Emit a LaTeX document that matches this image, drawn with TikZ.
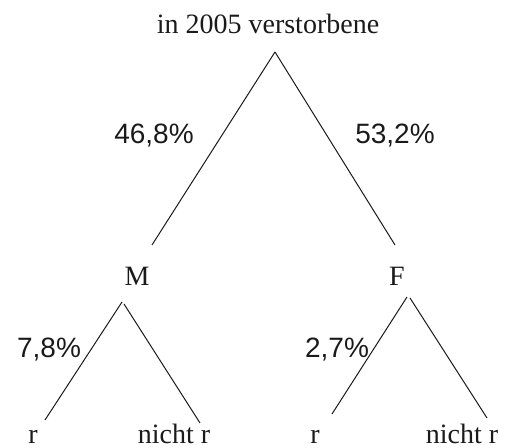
\documentclass[tikz,border=0pt]{standalone}
\usepackage{fontspec}
\setmainfont{Liberation Serif}
\newfontfamily\pctfont{Liberation Sans}
\usepackage{tikz}
\usetikzlibrary{positioning,calc}
\usepackage[dvipsnames]{xcolor}
\definecolor{inkBlack}{HTML}{1a1a1a}
\tikzset{
  treeLabel/.style={inner sep=0pt,anchor=base,text=inkBlack,font=\fontsize{14pt}{16pt}\selectfont},
  pctLabel/.style={inner sep=0pt,text=inkBlack,font=\pctfont\fontsize{14pt}{16pt}\selectfont},
  branch/.style={draw=inkBlack,line width=0.5pt}
}

\begin{document}
\begin{tikzpicture}[x=0.5pt,y=-0.5pt]
\useasboundingbox (0,0) rectangle (510,448);
% nodes of the tree
\node[treeLabel] (root) at (268,34) {in 2005 verstorbene};
\node[treeLabel] (M) at (137,286) {M};
\node[treeLabel] (F) at (397,286) {F};
\node[treeLabel] (rM) at (33,444) {r};
\node[treeLabel] (nrM) at (174,444) {nicht r};
\node[treeLabel] (rF) at (315,444) {r};
\node[treeLabel] (nrF) at (462,444) {nicht r};
% branches
\draw[branch] ([shift={(7,18)}]root.base) -- ([shift={(15,-41)}]M.base);
\draw[branch] ([shift={(7,18)}]root.base) -- ([shift={(-2,-41)}]F.base);
\draw[branch] ([shift={(-15,16)}]M.base) -- ([shift={(12,-24)}]rM.base);
\draw[branch] ([shift={(-13,18)}]M.base) -- ([shift={(26,-21)}]nrM.base);
\draw[branch] ([shift={(10,11)}]F.base) -- ([shift={(17,-30)}]rF.base);
\draw[branch] ([shift={(13,12)}]F.base) -- ([shift={(25,-26)}]nrF.base);
% probabilities
\node[pctLabel] (pM) at (154,136) {46,8\%};
\node[pctLabel] (pF) at (395,136) {53,2\%};
\node[pctLabel] (prM) at (49,350) {7,8\%};
\node[pctLabel] (prF) at (337,350) {2,7\%};
\end{tikzpicture}
\end{document}
